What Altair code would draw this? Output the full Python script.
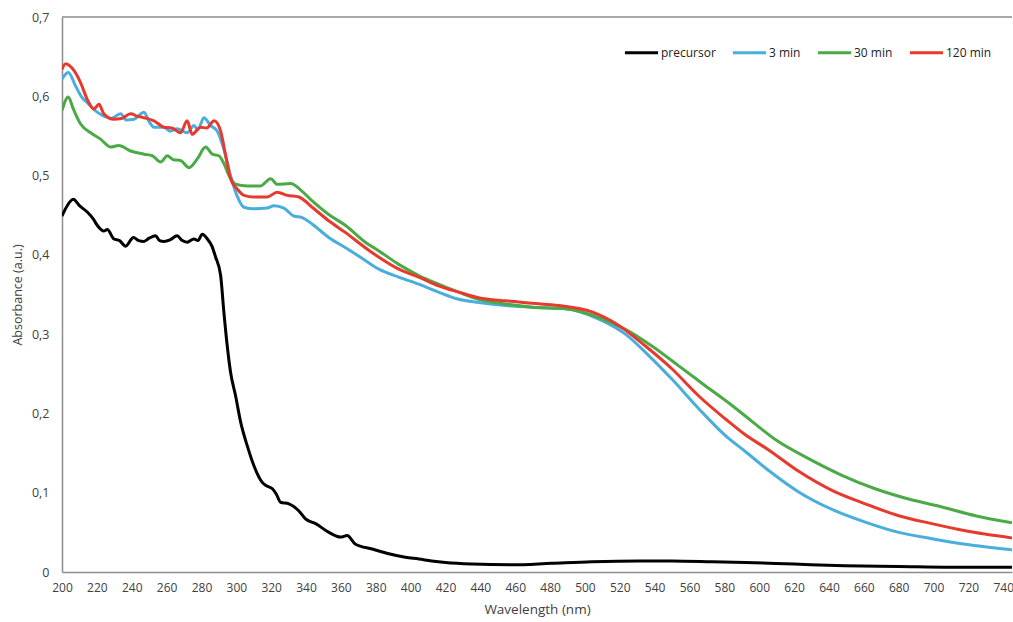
import altair as alt
import pandas as pd

series_names = ["precursor", "3 min", "30 min", "120 min"]
series_colors = ["#000000", "#4aaedc", "#4aab46", "#e8392e"]

pre_wl = [200, 203, 206.5, 210, 214.5, 218, 220.3, 224, 226, 229.8, 233, 236.5, 241, 244, 247, 250,
          253.7, 256, 258.5, 262, 266, 269, 271.8, 275.7, 278, 280.5, 283.4, 286, 288, 291, 292.9,
          294.8, 296.7, 299.6, 302.5, 306.3, 310.1, 314.9, 317, 320.7, 323, 325.4, 330.2, 335.9,
          339.7, 345.5, 353.1, 359.8, 363.6, 368.4, 378, 387.5, 397, 404.7, 412, 420, 435, 458,
          481, 504, 531, 550, 573, 592, 620, 649, 680, 710, 745]
pre_abs = [0.449, 0.462, 0.470, 0.462, 0.454, 0.445, 0.437, 0.430, 0.432, 0.420, 0.418, 0.411,
           0.422, 0.418, 0.417, 0.421, 0.424, 0.418, 0.417, 0.419, 0.424, 0.418, 0.416, 0.420,
           0.418, 0.426, 0.420, 0.411, 0.398, 0.374, 0.327, 0.285, 0.252, 0.222, 0.189, 0.159,
           0.134, 0.113, 0.109, 0.105, 0.098, 0.088, 0.086, 0.077, 0.067, 0.061, 0.050, 0.044,
           0.046, 0.035, 0.029, 0.023, 0.0185, 0.0164, 0.014, 0.012, 0.010, 0.009, 0.011, 0.013,
           0.014, 0.014, 0.013, 0.012, 0.010, 0.008, 0.007, 0.006, 0.006]

m3_wl = [200, 203.6, 207.8, 211, 214.5, 220.2, 224, 228, 233.6, 237, 241.3, 247, 250, 252.8,
         258.5, 262, 266, 271.8, 275.7, 278, 281.4, 285.3, 289.1, 292.9, 296.7, 300.5, 304.4,
         310, 317.7, 321.6, 327.3, 333, 337.8, 343.5, 353, 362.7, 374, 381.8, 393.2, 404.7,
         416, 427.6, 439, 454.4, 469.7, 488.8, 508, 523.2, 536.6, 550, 565.3, 580.6, 592,
         605.4, 622.6, 641.7, 660.8, 680, 699, 718.2, 745]
m3_abs = [0.622, 0.630, 0.613, 0.600, 0.592, 0.580, 0.575, 0.572, 0.578, 0.570, 0.571, 0.580,
          0.568, 0.561, 0.561, 0.556, 0.559, 0.554, 0.563, 0.558, 0.573, 0.563, 0.556, 0.533,
          0.500, 0.474, 0.460, 0.458, 0.459, 0.462, 0.459, 0.449, 0.447, 0.439, 0.422, 0.409,
          0.393, 0.382, 0.372, 0.363, 0.353, 0.344, 0.340, 0.336, 0.334, 0.332, 0.319, 0.300,
          0.273, 0.243, 0.206, 0.172, 0.152, 0.128, 0.101, 0.079, 0.063, 0.050, 0.042, 0.035,
          0.028]

m30_wl = [200, 203.6, 206.5, 210.7, 216.4, 222.1, 227.9, 232.6, 239.4, 247, 251.8, 256.6, 260.4,
          264, 268, 272.8, 277.6, 282.4, 286.2, 290, 292.9, 295.8, 299.6, 306.3, 313.9, 319.7,
          323.5, 331.1, 337.8, 343.5, 353, 362.7, 374, 381.8, 393.2, 404.7, 416, 427.6, 439,
          454.4, 469.7, 488.8, 508, 523.2, 538.4, 553.8, 569, 584.4, 595.8, 609.2, 628.3, 647.4,
          666.5, 685.7, 704.8, 724, 745]
m30_abs = [0.582, 0.599, 0.584, 0.565, 0.554, 0.546, 0.536, 0.538, 0.531, 0.527, 0.525, 0.517,
           0.525, 0.520, 0.519, 0.510, 0.521, 0.536, 0.527, 0.525, 0.515, 0.500, 0.489, 0.487,
           0.487, 0.496, 0.489, 0.490, 0.480, 0.468, 0.451, 0.437, 0.416, 0.405, 0.388, 0.374,
           0.363, 0.353, 0.344, 0.338, 0.334, 0.332, 0.321, 0.306, 0.285, 0.260, 0.235, 0.210,
           0.190, 0.167, 0.143, 0.122, 0.105, 0.092, 0.082, 0.071, 0.062]

m120_wl = [200, 202, 207, 210.7, 214.5, 218.3, 221.2, 224, 229.8, 234, 239.4, 243, 247, 252.8,
           258.5, 263, 268, 271.8, 274.7, 279.5, 283, 287.3, 291, 293.9, 296.7, 300.5, 304.4,
           310, 317.7, 323.4, 329.2, 335.9, 343.5, 353, 362.7, 374, 381.8, 393.2, 404.7, 416,
           427.6, 439, 454.4, 469.7, 485, 504, 519.4, 534.7, 550, 565.3, 580.6, 592, 605.4,
           622.6, 641.7, 660.8, 680, 699, 718.2, 745]
m120_abs = [0.634, 0.641, 0.632, 0.617, 0.596, 0.584, 0.590, 0.578, 0.571, 0.572, 0.578, 0.575,
            0.573, 0.569, 0.561, 0.560, 0.554, 0.569, 0.552, 0.561, 0.560, 0.569, 0.556, 0.525,
            0.496, 0.483, 0.475, 0.473, 0.473, 0.479, 0.475, 0.473, 0.460, 0.443, 0.428, 0.409,
            0.397, 0.382, 0.372, 0.361, 0.353, 0.346, 0.342, 0.339, 0.336, 0.328, 0.311, 0.285,
            0.256, 0.222, 0.193, 0.173, 0.154, 0.127, 0.103, 0.086, 0.071, 0.061, 0.052, 0.043]

x_ticks = list(range(200, 741, 20))
y_ticks = [0, 0.1, 0.2, 0.3, 0.4, 0.5, 0.6, 0.7]

rows = []
for name, wl, ab in zip(series_names,
                        [pre_wl, m3_wl, m30_wl, m120_wl],
                        [pre_abs, m3_abs, m30_abs, m120_abs]):
    for w, a in zip(wl, ab):
        rows.append({"series": name, "wl": w, "abs": a})
df = pd.DataFrame(rows)

FONT = "Open Sans"
AXIS_GREY = "#8c8c8c"
TEXT = "#404040"

x_enc = alt.X("wl:Q",
              scale=alt.Scale(domain=[200, 745], nice=False, zero=False),
              axis=alt.Axis(values=x_ticks, title="Wavelength (nm)", ticks=False, grid=False,
                            domainColor=AXIS_GREY, domainWidth=1.5,
                            labelFontSize=12, labelColor=TEXT, labelFont=FONT,
                            labelPadding=10, labelOverlap=False, labelBound=False, labelFlush=False,
                            titleFont=FONT, titleFontSize=13.5, titleFontWeight="normal",
                            titleColor=TEXT, titlePadding=9))
y_enc = alt.Y("abs:Q",
              scale=alt.Scale(domain=[0, 0.7], nice=False, zero=True),
              axis=alt.Axis(values=y_ticks, title="Absorbance (a.u.)", ticks=False, grid=False,
                            domainColor=AXIS_GREY, domainWidth=1.5,
                            labelExpr="datum.value == 0 ? '0' : replace(format(datum.value, '.1f'), '.', ',')",
                            labelFontSize=12.5, labelColor=TEXT, labelFont=FONT, labelPadding=13,
                            titleFont=FONT, titleFontSize=12.5, titleFontWeight="normal",
                            titleColor=TEXT, titlePadding=7))

lines = alt.Chart(df).mark_line(strokeWidth=3, clip=True, interpolate="monotone").encode(
    x=x_enc,
    y=y_enc,
    color=alt.Color("series:N",
                    scale=alt.Scale(domain=series_names, range=series_colors),
                    sort=series_names,
                    legend=alt.Legend(title=None, orient="none", legendX=561, legendY=17,
                                      direction="horizontal", symbolType="stroke",
                                      symbolSize=1100, symbolStrokeWidth=3,
                                      labelFont=FONT, labelFontSize=12, labelColor="#222222",
                                      labelOffset=1, columnPadding=10, padding=0)),
    order=alt.Order("wl:Q"),
)

top_border = alt.Chart(pd.DataFrame({"y": [0.7]})).mark_rule(
    color=AXIS_GREY, strokeWidth=1.5).encode(y="y:Q")

chart = alt.layer(lines, top_border).properties(
    width=950, height=555,
    autosize=alt.AutoSizeParams(type="none"),
    padding={"left": 62, "top": 17, "right": 1, "bottom": 50},
).configure_view(stroke=None)

chart.save("out.html", embed_options={"renderer": "svg", "actions": False})
